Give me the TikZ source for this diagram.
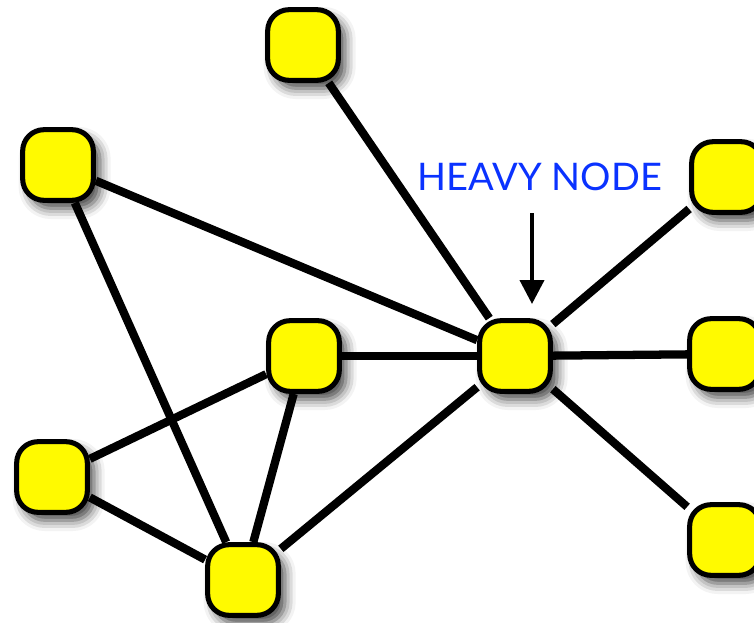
\documentclass[tikz,border=0pt]{standalone}
\usepackage{fontspec}
\newfontfamily\labelfont{Lato}
\usetikzlibrary{shadows.blur,arrows.meta}
\pgfdeclarelayer{background}
\pgfsetlayers{background,main}
\definecolor{nodeyellow}{RGB}{255,250,0}
\definecolor{labelblue}{RGB}{10,50,255}
\tikzset{
  vertex/.style={draw=black, line width=3.8pt, fill=nodeyellow,
    rounded corners=16pt, minimum width=53pt, minimum height=53pt,
    inner sep=0pt,
    blur shadow={shadow xshift=5pt, shadow yshift=-6pt,
      shadow blur radius=8pt, shadow opacity=75}},
  link/.style={draw=black, line width=6.2pt},
  pointer/.style={draw=black, line width=3pt,
    -{Triangle[length=18pt,width=18pt]}}
}
\begin{document}
\begin{tikzpicture}[x=0.75pt,y=-0.75pt]
\useasboundingbox (0,0) rectangle (754,622);
% vertices
\node[vertex] (top)     at (303,45)  {};
\node[vertex] (topleft) at (58,165)  {};
\node[vertex] (mid)     at (304,356) {};
\node[vertex] (heavy)   at (515,356) {};
\node[vertex] (left)    at (52,477)  {};
\node[vertex] (bottom)  at (243,580) {};
\node[vertex] (right1)  at (727,177) {};
\node[vertex] (right2)  at (725,354) {};
\node[vertex] (right3)  at (725,540) {};
% edges behind the vertices
\begin{pgfonlayer}{background}
\draw[link] (top) -- (heavy);
\draw[link] (topleft) -- (heavy);
\draw[link] (topleft) -- (bottom);
\draw[link] (mid) -- (heavy);
\draw[link] (mid) -- (left);
\draw[link] (mid) -- (bottom);
\draw[link] (left) -- (bottom);
\draw[link] (bottom) -- (heavy);
\draw[link] (heavy) -- (right1);
\draw[link] (heavy) -- (right2);
\draw[link] (heavy) -- (right3);
\end{pgfonlayer}
% label with its pointer
\node[text=labelblue, font=\labelfont\fontsize{28.5pt}{32pt}\selectfont, anchor=base]
  (label) at (540,190) {HEAVY NODE};
\coordinate (ptop) at (532,213);
\coordinate (ptip) at (532,304);
\draw[pointer] (ptop) -- (ptip);
\end{tikzpicture}
\end{document}
